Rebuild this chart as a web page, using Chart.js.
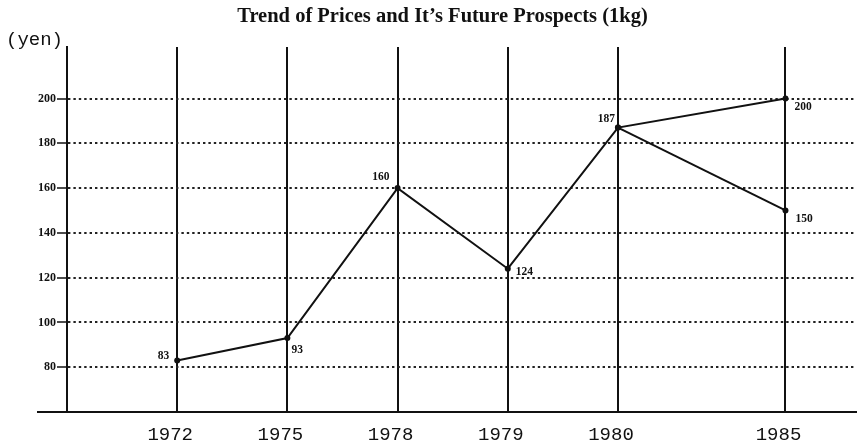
<!DOCTYPE html>
<html>
<head>
<meta charset="utf-8">
<title>Trend of Prices</title>
<script src="https://cdn.jsdelivr.net/npm/chart.js@4"></script>
<style>
    body { margin: 0; background: #fff; }
    canvas { display: block; }
</style>
</head>
<body>
<canvas id="price-chart" width="860" height="446"></canvas>
<script>
// Price per kg in yen

const years = ['1972', '1975', '1978', '1979', '1980', '1985'];
// slot of each year on the axis (the printed chart leaves a wider gap before 1985)
const yearSlots = [0, 1, 2, 3, 4, 5.52];
const priceTrend = [83, 93, 160, 124, 187, 200];
const lowForecast = [null, null, null, null, 187, 150];
const yTicks = [80, 100, 120, 140, 160, 180, 200];

// where each value label sits next to its point: [dx, dy, align]
const trendLabelPos = [[-8, -4, 'right'], [4, 12, 'left'], [-8, -11, 'right'], [8, 3, 'left'], [-3, -9, 'right'], [9, 9, 'left']];
const forecastLabelPos = [null, null, null, null, null, [10, 9, 'left']];

const INK = '#111';

function toPoints(values) {
    return values
        .map((v, i) => (v === null ? null : { x: yearSlots[i], y: v }))
        .filter(p => p !== null);
}

const valueLabels = {
    id: 'valueLabels',
    afterDatasetsDraw(chart) {
        const ctx = chart.ctx;
        ctx.save();
        ctx.fillStyle = INK;
        ctx.font = 'bold 11.5px "Liberation Serif", serif';
        ctx.textBaseline = 'middle';
        const sets = [[priceTrend, trendLabelPos], [lowForecast, forecastLabelPos]];
        sets.forEach(([values, pos], di) => {
            const meta = chart.getDatasetMeta(di);
            let k = 0;
            values.forEach((v, i) => {
                if (v === null) return;
                const el = meta.data[k++];
                const p = pos[i];
                if (!p) return;
                ctx.textAlign = p[2];
                ctx.fillText(String(v), el.x + p[0], el.y + p[1]);
            });
        });
        ctx.restore();
    }
};

const axisExtras = {
    id: 'axisExtras',
    afterDraw(chart) {
        const ctx = chart.ctx;
        const area = chart.chartArea;
        ctx.save();
        // bottom axis runs out under the y tick labels
        ctx.strokeStyle = INK;
        ctx.lineWidth = 2;
        ctx.beginPath();
        ctx.moveTo(37, area.bottom);
        ctx.lineTo(area.left, area.bottom);
        ctx.stroke();
        // unit label
        ctx.fillStyle = INK;
        ctx.font = '19px "Liberation Mono", monospace';
        ctx.textAlign = 'left';
        ctx.textBaseline = 'alphabetic';
        ctx.fillText('(yen)', 6, 45);
        ctx.restore();
    }
};

const ctx = document.getElementById('price-chart').getContext('2d');

const chart = new Chart(ctx, {
    type: 'line',
    data: {
        datasets: [
            {
                label: 'Price',
                data: toPoints(priceTrend),
                borderColor: INK,
                backgroundColor: INK,
                borderWidth: 2,
                pointRadius: 3,
                pointBackgroundColor: INK,
                pointBorderWidth: 0,
                tension: 0
            },
            {
                label: 'Low forecast',
                data: toPoints(lowForecast),
                borderColor: INK,
                backgroundColor: INK,
                borderWidth: 2,
                pointRadius: 3,
                pointBackgroundColor: INK,
                pointBorderWidth: 0,
                tension: 0
            }
        ]
    },
    options: {
        responsive: false,
        animation: false,
        layout: {
            padding: { left: 26, right: 1, top: 0, bottom: 0 }
        },
        plugins: {
            legend: { display: false },
            tooltip: { enabled: false },
            title: {
                display: true,
                text: 'Trend of Prices and It\u2019s Future Prospects (1kg)',
                color: INK,
                font: { family: '"Liberation Serif", serif', size: 20.5, weight: 'bold' },
                padding: { top: 4, bottom: 18.4 }
            }
        },
        scales: {
            x: {
                type: 'linear',
                min: -1,
                max: 6.16,
                afterBuildTicks: function(scale) {
                    scale.ticks = yearSlots.map(v => ({ value: v }));
                },
                afterFit: function(scale) {
                    scale.height = 34;
                },
                ticks: {
                    autoSkip: false,
                    maxRotation: 0,
                    padding: 12,
                    labelOffset: -7,
                    color: INK,
                    font: { family: '"Liberation Mono", monospace', size: 19 },
                    callback: function(value, index) {
                        return years[index];
                    }
                },
                grid: {
                    color: INK,
                    lineWidth: 2,
                    drawTicks: false
                },
                border: { display: true, color: INK, width: 2 }
            },
            y: {
                min: 60,
                max: 223,
                afterBuildTicks: function(scale) {
                    scale.ticks = yTicks.map(v => ({ value: v }));
                },
                afterFit: function(scale) {
                    scale.width = 41;
                },
                ticks: {
                    padding: 1,
                    color: INK,
                    font: { family: '"Liberation Serif", serif', size: 12, weight: 'bold' }
                },
                grid: {
                    color: '#222',
                    lineWidth: 2,
                    tickLength: 10,
                    tickColor: INK,
                    tickWidth: 1.5,
                    tickBorderDash: []
                },
                border: { display: true, color: INK, width: 2, dash: [2.4, 3] }
            }
        }
    },
    plugins: [valueLabels, axisExtras]
});
</script>
</body>
</html>
